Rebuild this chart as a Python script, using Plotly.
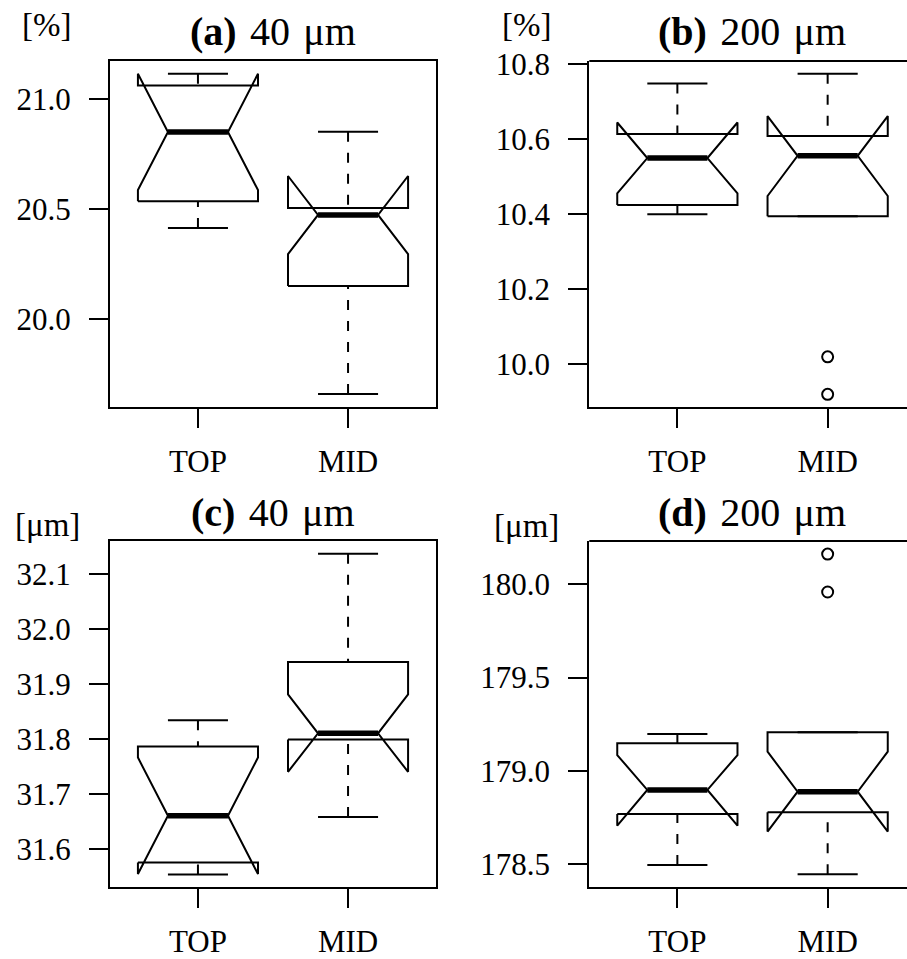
import plotly.graph_objects as go

# ---------------- data ----------------
groups = ["TOP", "MID"]
group_pos = [1, 2]

# (a) 40 um, [%]
a_low = [20.414, 19.659]
a_q1 = [20.535, 20.150]
a_notch_lo = [20.586, 20.295]
a_med = [20.850, 20.473]
a_notch_hi = [21.115, 20.650]
a_q3 = [21.062, 20.505]
a_high = [21.115, 20.851]
a_out_x = []
a_out_y = []
a_ticks = [20.0, 20.5, 21.0]
a_ticktext = ["20.0", "20.5", "21.0"]

# (b) 200 um, [%]
b_low = [10.400, 10.395]
b_q1 = [10.425, 10.395]
b_notch_lo = [10.456, 10.449]
b_med = [10.550, 10.556]
b_notch_hi = [10.645, 10.662]
b_q3 = [10.614, 10.609]
b_high = [10.749, 10.775]
b_out_x = ["MID", "MID"]
b_out_y = [10.020, 9.920]
b_ticks = [10.0, 10.2, 10.4, 10.6, 10.8]
b_ticktext = ["10.0", "10.2", "10.4", "10.6", "10.8"]

# (c) 40 um, [um]
c_low = [31.553, 31.658]
c_q1 = [31.575, 31.799]
c_notch_lo = [31.554, 31.740]
c_med = [31.660, 31.810]
c_notch_hi = [31.766, 31.881]
c_q3 = [31.786, 31.940]
c_high = [31.834, 32.137]
c_out_x = []
c_out_y = []
c_ticks = [31.6, 31.7, 31.8, 31.9, 32.0, 32.1]
c_ticktext = ["31.6", "31.7", "31.8", "31.9", "32.0", "32.1"]

# (d) 200 um, [um]
d_low = [178.496, 178.446]
d_q1 = [178.769, 178.778]
d_notch_lo = [178.707, 178.675]
d_med = [178.898, 178.889]
d_notch_hi = [179.085, 179.103]
d_q3 = [179.148, 179.207]
d_high = [179.198, 179.207]
d_out_x = ["MID", "MID"]
d_out_y = [180.161, 179.958]
d_ticks = [178.5, 179.0, 179.5, 180.0]
d_ticktext = ["178.5", "179.0", "179.5", "180.0"]

SP = " \u200a"
titles = ["<b>(a)</b>" + SP + "40" + SP + "μm", "<b>(b)</b>" + SP + "200" + SP + "μm",
          "<b>(c)</b>" + SP + "40" + SP + "μm", "<b>(d)</b>" + SP + "200" + SP + "μm"]
units = ["[%]", "[%]", "[μm]", "[μm]"]

# ---------------- layout geometry (pixels) ----------------
W, H = 907, 959
FONT = "Liberation Serif"
HW = 0.4      # half box width
IW = 0.2      # inner (notch/median) half width
CW = 0.2      # staple half width
LW = 2

def px_x(p):
    return p / W

def px_y(p):
    return 1 - p / H

panels = [
    dict(low=a_low, q1=a_q1, nlo=a_notch_lo, med=a_med, nhi=a_notch_hi, q3=a_q3, high=a_high,
         ox=a_out_x, oy=a_out_y, ticks=a_ticks, tt=a_ticktext, yr=[19.601, 21.173],
         xd=[110, 436], yd=[61, 406.7], xr=[0.414, 2.586], full=True),
    dict(low=b_low, q1=b_q1, nlo=b_notch_lo, med=b_med, nhi=b_notch_hi, q3=b_q3, high=b_high,
         ox=b_out_x, oy=b_out_y, ticks=b_ticks, tt=b_ticktext, yr=[9.887, 10.809],
         xd=[589.3, 907], yd=[61, 406.7], xr=[0.414, 2.528], full=False),
    dict(low=c_low, q1=c_q1, nlo=c_notch_lo, med=c_med, nhi=c_notch_hi, q3=c_q3, high=c_high,
         ox=c_out_x, oy=c_out_y, ticks=c_ticks, tt=c_ticktext, yr=[31.531, 32.160],
         xd=[110, 436], yd=[541, 886.7], xr=[0.414, 2.586], full=True),
    dict(low=d_low, q1=d_q1, nlo=d_notch_lo, med=d_med, nhi=d_notch_hi, q3=d_q3, high=d_high,
         ox=d_out_x, oy=d_out_y, ticks=d_ticks, tt=d_ticktext, yr=[178.380, 180.231],
         xd=[589.3, 907], yd=[541, 886.7], xr=[0.414, 2.528], full=False),
]

title_pos = [(273, 32), (752, 32), (273, 512), (752, 512)]
unit_pos = [(46, 25), (526, 25), (47, 525), (526, 526)]

fig = go.Figure()
layout = dict(width=W, height=H, margin=dict(l=0, r=0, t=0, b=0, pad=0),
              template="none",
              paper_bgcolor="white", plot_bgcolor="white", showlegend=False,
              font=dict(family=FONT, size=31, color="black"))
shapes = []
annotations = []

for i, p in enumerate(panels):
    n = i + 1
    xa = "x" if n == 1 else f"x{n}"
    ya = "y" if n == 1 else f"y{n}"
    line = dict(color="black", width=LW)
    for j, g in enumerate(groups):
        c = group_pos[j]
        # notched box outline (R style)
        bx = [c - HW, c - HW, c - IW, c - HW, c - HW, c + HW, c + HW, c + IW, c + HW, c + HW, c - HW]
        by = [p["q1"][j], p["nlo"][j], p["med"][j], p["nhi"][j], p["q3"][j], p["q3"][j],
              p["nhi"][j], p["med"][j], p["nlo"][j], p["q1"][j], p["q1"][j]]
        fig.add_trace(go.Scatter(x=bx, y=by, mode="lines", line=line, xaxis=xa, yaxis=ya,
                                 hoverinfo="skip"))
        # whiskers (dashed, drawn from staple toward the hinge)
        for lo, hi in ((p["low"][j], p["q1"][j]), (p["high"][j], p["q3"][j])):
            if abs(lo - hi) > 1e-9:
                fig.add_trace(go.Scatter(x=[c, c], y=[lo, hi], mode="lines",
                                         line=dict(color="black", width=LW, dash="10px,11px"),
                                         xaxis=xa, yaxis=ya, hoverinfo="skip"))
            fig.add_trace(go.Scatter(x=[c - CW, c + CW], y=[lo, lo], mode="lines", line=line,
                                     xaxis=xa, yaxis=ya, hoverinfo="skip"))
        # median
        fig.add_trace(go.Scatter(x=[c - IW, c + IW], y=[p["med"][j], p["med"][j]], mode="lines",
                                 line=dict(color="black", width=5.5), xaxis=xa, yaxis=ya,
                                 hoverinfo="skip"))
    if p["ox"]:
        ox = [group_pos[groups.index(g)] for g in p["ox"]]
        fig.add_trace(go.Scatter(x=ox, y=p["oy"], mode="markers",
                                 marker=dict(symbol="circle-open", size=11, color="black",
                                             line=dict(width=2, color="black")),
                                 xaxis=xa, yaxis=ya, hoverinfo="skip"))

    xkey = "xaxis" if n == 1 else f"xaxis{n}"
    ykey = "yaxis" if n == 1 else f"yaxis{n}"
    layout[xkey] = dict(domain=[px_x(p["xd"][0]), px_x(p["xd"][1])], range=p["xr"],
                        anchor=ya, tickvals=group_pos, ticktext=groups, ticks="outside",
                        ticklen=19, tickwidth=LW, tickcolor="black", showgrid=False,
                        zeroline=False, showline=True, linecolor="black", linewidth=LW,
                        mirror=p["full"], ticklabelstandoff=7, automargin=False,
                        tickfont=dict(family=FONT, size=31, color="black"))
    layout[ykey] = dict(domain=[px_y(p["yd"][1]), px_y(p["yd"][0])], range=p["yr"],
                        anchor=xa, tickvals=p["ticks"], ticktext=p["tt"], ticks="outside",
                        ticklen=19, tickwidth=LW, tickcolor="black", showgrid=False,
                        zeroline=False, showline=True, linecolor="black", linewidth=LW,
                        mirror=p["full"], ticklabelstandoff=12, automargin=False,
                        tickfont=dict(family=FONT, size=31, color="black"))
    if not p["full"]:
        shapes.append(dict(type="line", xref=f"{xa} domain", yref=f"{ya} domain",
                           x0=0, x1=1.05, y0=1, y1=1, line=dict(color="black", width=LW)))
    tx, ty = title_pos[i]
    annotations.append(dict(text=titles[i], x=px_x(tx), y=px_y(ty), xref="paper", yref="paper",
                            xanchor="center", yanchor="middle", showarrow=False,
                            font=dict(family=FONT, size=40, color="black")))
    ux, uy = unit_pos[i]
    annotations.append(dict(text=units[i], x=px_x(ux), y=px_y(uy), xref="paper", yref="paper",
                            xanchor="center", yanchor="middle", showarrow=False,
                            font=dict(family=FONT, size=33, color="black")))

layout["shapes"] = shapes
layout["annotations"] = annotations
fig.update_layout(**layout)
fig.write_html("out.html", config={"displayModeBar": False},
               post_script="document.body.style.margin='0';document.body.style.overflow='hidden';")
